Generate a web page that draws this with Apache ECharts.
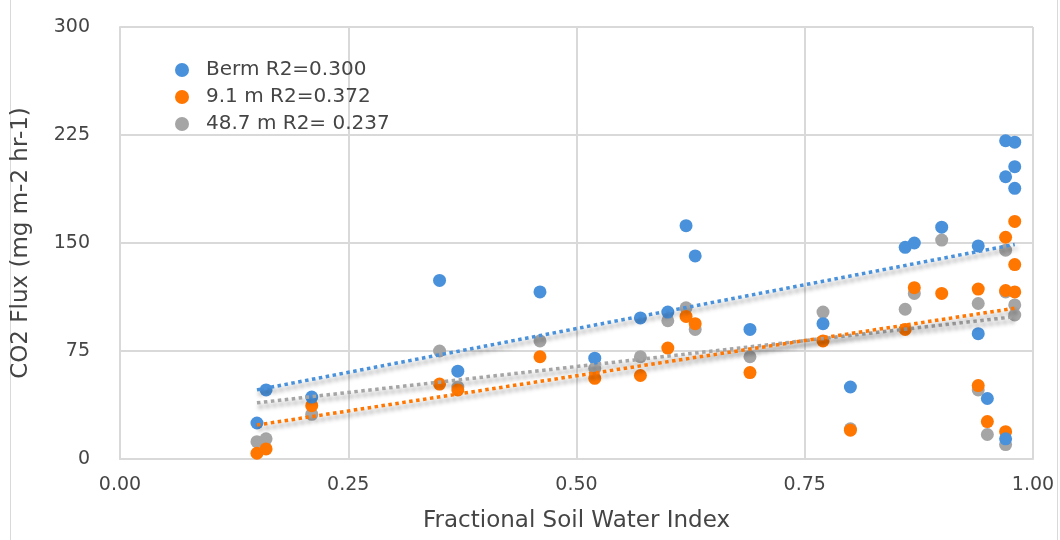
<!DOCTYPE html>
<html>
<head>
<meta charset="utf-8">
<script src="https://cdn.jsdelivr.net/npm/echarts@6/dist/echarts.min.js"></script>
<style>
html,body{margin:0;padding:0;background:#fff;}
#chart{width:1060px;height:540px;}
</style>
</head>
<body>
<div id="chart"></div>
<script>
// ---- data ----
const seriesNames = ['Berm R2=0.300', '9.1 m R2=0.372', '48.7 m R2= 0.237'];

const bermX = [0.15,0.16,0.21,0.35,0.37,0.46,0.52,0.57,0.60,0.62,0.63,0.69,0.77,0.80,0.86,0.87,0.90,0.94,0.94,0.95,0.97,0.97,0.97,0.98,0.98,0.98];
const bermY = [25,48,43,124,61,116,70,98,102,162,141,90,94,50,147,150,161,148,87,42,221,196,14,220,203,188];

const m91X = [0.15,0.16,0.21,0.35,0.37,0.46,0.52,0.57,0.60,0.62,0.63,0.69,0.77,0.80,0.86,0.87,0.90,0.94,0.94,0.95,0.97,0.97,0.97,0.98,0.98,0.98];
const m91Y = [4,7,37,52,48,71,56,58,77,99,94,60,82,20,90,119,115,118,51,26,154,117,19,165,135,116];

const m487X = [0.15,0.16,0.21,0.35,0.37,0.46,0.52,0.57,0.60,0.62,0.63,0.69,0.77,0.80,0.86,0.87,0.90,0.94,0.94,0.95,0.97,0.97,0.97,0.98,0.98];
const m487Y = [12,14,31,75,50,82,63,71,96,105,90,71,102,21,104,115,152,108,48,17,145,116,10,107,100];

// trend line endpoints (x, y)
const bermTrend = [[0.15,48],[0.98,149]];
const m91Trend = [[0.15,23.6],[0.98,104.7]];
const m487Trend = [[0.15,39],[0.98,98.8]];

const xTicks = [0, 0.25, 0.5, 0.75, 1];
const yTicks = [0, 75, 150, 225, 300];

const colors = ['#4a91db', '#ff7600', '#a5a5a5'];

function pairs(xs, ys){ return xs.map((x,i)=>[x, ys[i]]); }

const FONT = 'DejaVu Sans';
const TXT = '#454545';

function scatter(name, data, color, z){
  return {
    name: name, type: 'scatter', data: data, symbol: 'circle', symbolSize: 13,
    itemStyle: {color: color, opacity: 1}, z: z, animation: false
  };
}
function trend(name, data, color){
  return {
    name: name + ' trend', type: 'line', data: data, symbol: 'none', z: 5, silent: true,
    lineStyle: {color: color, width: 3.5, type: [3.5, 3.5],
      shadowColor: 'rgba(0,0,0,0.45)', shadowBlur: 4, shadowOffsetX: 2, shadowOffsetY: 4},
    animation: false
  };
}

const chart = echarts.init(document.getElementById('chart'), null, {renderer: 'canvas'});
chart.setOption({
  animation: false,
  backgroundColor: '#ffffff',
  graphic: [{
    type: 'rect', shape: {x: 10.5, y: -10, width: 1047, height: 560},
    style: {fill: 'none', stroke: '#d9d9d9', lineWidth: 1}, silent: true, z: -1
  }],
  grid: {left: 120, right: 27, top: 27, bottom: 81, show: false},
  legend: {
    data: seriesNames.map((n,i)=>({name: n, itemStyle: {color: colors[i]}})),
    orient: 'vertical', left: 170, top: 55,
    icon: 'circle', itemWidth: 14, itemHeight: 14, itemGap: 7,
    textStyle: {fontFamily: FONT, fontSize: 20, color: TXT, lineHeight: 20, padding: [0,0,0,12]},
    selectedMode: false
  },
  xAxis: {
    type: 'value', min: 0, max: 1, interval: 0.25,
    name: 'Fractional Soil Water Index', nameLocation: 'middle', nameGap: 51,
    nameTextStyle: {fontFamily: FONT, fontSize: 23, color: TXT},
    axisLine: {show: true, lineStyle: {color: '#d9d9d9', width: 2}},
    axisTick: {show: false},
    splitLine: {show: true, lineStyle: {color: '#d9d9d9', width: 2}},
    axisLabel: {fontFamily: FONT, fontSize: 19, color: TXT, margin: 17,
      formatter: v => v.toFixed(2)}
  },
  yAxis: {
    type: 'value', min: 0, max: 300, interval: 75,
    name: 'CO2 Flux (mg m-2 hr-1)', nameLocation: 'middle', nameGap: 87, nameRotate: 90,
    nameTextStyle: {fontFamily: FONT, fontSize: 23, color: TXT},
    axisLine: {show: true, lineStyle: {color: '#d9d9d9', width: 2}},
    axisTick: {show: false},
    splitLine: {show: true, lineStyle: {color: '#d9d9d9', width: 2}},
    axisLabel: {fontFamily: FONT, fontSize: 19, color: TXT, margin: 30}
  },
  series: [
    scatter(seriesNames[2], pairs(m487X, m487Y), colors[2], 2),
    scatter(seriesNames[1], pairs(m91X, m91Y), colors[1], 3),
    scatter(seriesNames[0], pairs(bermX, bermY), colors[0], 4),
    trend(seriesNames[2], m487Trend, colors[2]),
    trend(seriesNames[1], m91Trend, colors[1]),
    trend(seriesNames[0], bermTrend, colors[0])
  ]
});
</script>
</body>
</html>
